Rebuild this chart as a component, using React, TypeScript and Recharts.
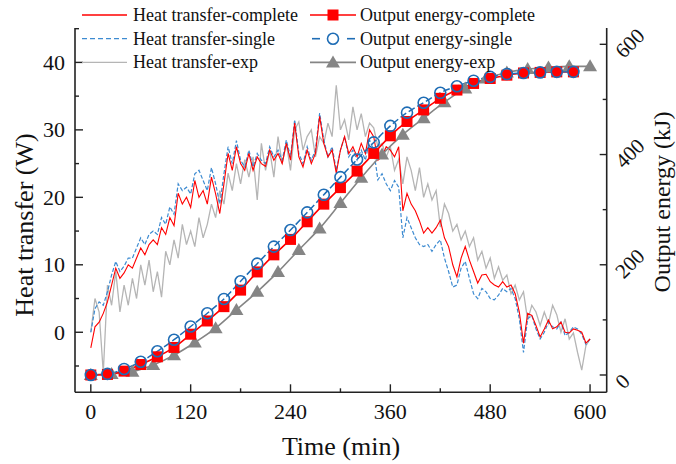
import React from "react";
import { ComposedChart, Line, XAxis, YAxis, Legend } from "recharts";

const FONT = '"Liberation Serif", "Times New Roman", serif';
const AXIS = "#222";
const RED = "#ff0000";
const BLUE_HEAT = "#3d8bd1";
const BLUE_E = "#1f6db5";
const GREY_HEAT = "#b5b5b5";
const GREY_E = "#858585";

// heat transfer (W), sampled every 5 min, 0..600
const HEAT_TIME = Array.from({ length: 121 }, (_, i) => i * 5);
const HEAT_COMPLETE = [
  -2.3, 0.8, 1.5, 2.8, 4.5, 7, 9.5, 8, 8.8, 10, 9.5, 11,
  12.5, 11.5, 13, 13.7, 13, 15.5, 14.5, 17, 15.8, 20.6, 19, 20,
  18.5, 22.5, 20, 21, 19, 23, 20.5, 17.6, 22, 26.5, 24, 27.5,
  25, 24, 26.5, 24, 26, 25, 24.6, 27, 25.5, 26.5, 25, 28,
  25.5, 31, 26, 24.5, 27, 25, 26.5, 32, 28, 26, 27, 23.6,
  27, 29, 26.5, 27.5, 26, 28, 26.5, 30, 29, 25.5, 26, 27.5,
  27, 26, 27.5, 18, 20.6, 19, 18, 16.5, 14.7, 15.5, 14.7, 15.5,
  16.6, 14, 12.7, 10, 8.2, 11, 12.7, 10.7, 9, 7.3, 8.5, 8.6,
  7.5, 7, 6.7, 7.5, 6.7, 7, 5.7, 3, -1.6, 2.8, 2.5, 1,
  -0.7, 0.5, 1.8, 0.5, 0.8, 1.5, 0, -0.1, 0.5, 0.3, 0, -1.6,
  -1,
];
const HEAT_SINGLE = [
  0, 3.5, 4.5, 4, 6, 8.5, 10.5, 9, 9.8, 11, 11, 12.5,
  14, 13, 14.5, 15, 14.5, 17, 16, 18.6, 17.5, 22, 21, 21.5,
  20.5, 23.5, 24, 22.5, 21, 24.4, 22, 19, 23.5, 27.5, 25, 28.4,
  25.5, 24.5, 27, 24.5, 26.5, 25.5, 25, 27.5, 26, 27, 25.5, 28.5,
  26, 31.5, 26.5, 25, 27.5, 25.5, 27, 32.5, 28.5, 26, 27.5, 24,
  27, 29, 26, 27, 25.5, 27, 25.5, 28.5, 27, 22.6, 23.5, 22,
  21, 22.5, 21.5, 14, 17, 15.5, 14, 13, 12.7, 13, 12, 13,
  13.7, 11, 9, 6.7, 7, 9.5, 10.5, 8, 5.7, 5, 6.5, 6,
  5, 4.8, 5.5, 6.5, 6, 6.5, 5, 2, -3, 2, 2.5, 0.5,
  -1, 0, 1.5, 0.8, 0.5, 1.5, -0.5, 0, 0.8, 0.5, -0.3, -1.8,
  -1,
];
const HEAT_EXP = [
  0, 5, 3, -6, 7, 4, 9, 3, 7, 4, 8, 5,
  10, 7, 10.7, 6, 9, 5.2, 12, 10, 13.7, 11, 16, 13,
  15, 12.7, 17, 14, 16, 19, 17, 21, 19, 23.6, 21, 25,
  22, 25.6, 23, 26, 19.6, 28, 24, 27, 23, 29, 25, 28,
  24, 30, 31.2, 27, 29, 30, 26, 29, 28, 31, 29, 36.6,
  30, 31.5, 28.5, 33.4, 30, 32.4, 29, 31, 30.3, 27.5, 28, 26,
  27.5, 24, 25.6, 22, 26, 24, 21, 24.4, 20, 22, 19.6, 21,
  15.6, 19, 17.6, 15, 16, 13.7, 15, 12.7, 14, 10.7, 12, 9.5,
  11, 8, 9.7, 7.7, 8.5, 5.7, 7, 4.8, 6, 1.8, 4, 3,
  1, 3, 1.3, 4, 2.6, 0, 2, -1, -0.1, -3, -5.6, -2,
  -1,
];

// output energy (kJ)
const SIM_TIME = [
  0, 20, 40, 60, 80, 100, 120, 140, 160, 180, 200, 220, 240, 260, 280,
  300, 320, 340, 360, 380, 400, 420, 440, 460, 480, 500, 520, 540, 560, 580,
];
const ENERGY_COMPLETE = [
  0, 1, 7, 19, 33, 50, 74, 98, 124, 154, 187, 218, 246, 278, 310,
  340, 370, 402, 434, 460, 481, 502, 517, 529, 538, 544, 548, 549, 550, 550,
];
const ENERGY_SINGLE = [
  0, 2, 11, 24, 43, 64, 88, 112, 138, 170, 202, 233, 263, 295, 327,
  359, 391, 422, 452, 476, 494, 512, 524, 534, 541, 546, 548, 549, 550, 550,
];
const EXP_TIME = [
  0, 25, 50, 75, 100, 125, 150, 175, 200, 225, 250, 275, 300,
  325, 350, 375, 400, 425, 450, 475, 500, 525, 550, 575, 600,
];
const ENERGY_EXP = [
  0, 2, 6, 18, 36, 59, 85, 118, 151, 187, 227, 266, 312,
  358, 400, 436, 466, 495, 520, 538, 549, 555, 558, 560, 560,
];

const X_TICKS = [0, 60, 120, 180, 240, 300, 360, 420, 480, 540, 600];
const X_LABELS = [0, 120, 240, 360, 480, 600];
const LEFT_TICKS = [-5, 0, 5, 10, 15, 20, 25, 30, 35, 40, 45];
const LEFT_LABELS = [0, 10, 20, 30, 40];
const RIGHT_TICKS = [0, 100, 200, 300, 400, 500, 600];
const RIGHT_LABELS = [0, 200, 400, 600];

const rows = (time: number[], vals: number[]) =>
  time.map((t, i) => ({ t, v: vals[i] }));

const XTick = (p: any) => {
  const major = X_LABELS.includes(p.payload.value);
  return (
    <g>
      <line x1={p.x} x2={p.x} y1={p.y} y2={p.y - (major ? 8 : 4)} stroke={AXIS} strokeWidth={1.4} />
      {major && (
        <text x={p.x} y={p.y + 27} textAnchor="middle" fontFamily={FONT} fontSize={22} fill="#111">
          {p.payload.value}
        </text>
      )}
    </g>
  );
};

const LeftTick = (p: any) => {
  const major = LEFT_LABELS.includes(p.payload.value);
  return (
    <g>
      <line x1={p.x} x2={p.x + (major ? 8 : 4)} y1={p.y} y2={p.y} stroke={AXIS} strokeWidth={1.4} />
      {major && (
        <text x={p.x - 10} y={p.y + 7.5} textAnchor="end" fontFamily={FONT} fontSize={22} fill="#111">
          {p.payload.value}
        </text>
      )}
    </g>
  );
};

const RightTick = (p: any) => {
  const major = RIGHT_LABELS.includes(p.payload.value);
  const tx = p.x + 17;
  const ty = p.y + 15;
  return (
    <g>
      <line x1={p.x} x2={p.x - (major ? 7 : 4)} y1={p.y} y2={p.y} stroke={AXIS} strokeWidth={1.4} />
      {major && (
        <text x={tx} y={ty} transform={`rotate(-45 ${tx} ${ty})`} fontFamily={FONT} fontSize={21} fill="#111">
          {p.payload.value}
        </text>
      )}
    </g>
  );
};

const Square = (p: any) => (
  <rect key={`sq-${p.index}`} x={p.cx - 5.5} y={p.cy - 5.5} width={11} height={11} fill={RED} />
);
const Circle = (p: any) => (
  <circle key={`ci-${p.index}`} cx={p.cx} cy={p.cy} r={5.5} fill="none" stroke={BLUE_E} strokeWidth={1.6} />
);
const Triangle = (p: any) => (
  <path
    key={`tr-${p.index}`}
    d={`M${p.cx},${p.cy - 7} L${p.cx + 7},${p.cy + 5} L${p.cx - 7},${p.cy + 5} Z`}
    fill={GREY_E}
  />
);

const LegendBox = () => {
  const rowsY = [15, 38.7, 62.4];
  const txt = (x: number, y: number, s: string) => (
    <text x={x} y={y + 6} fontFamily={FONT} fontSize={18} fill="#111">{s}</text>
  );
  return (
    <svg width={676} height={78} style={{ display: "block" }}>
      <line x1={82} x2={127} y1={rowsY[0]} y2={rowsY[0]} stroke={RED} strokeWidth={1.3} />
      {txt(133, rowsY[0], "Heat transfer-complete")}
      <line x1={82} x2={127} y1={rowsY[1]} y2={rowsY[1]} stroke={BLUE_HEAT} strokeWidth={1.3} strokeDasharray="5 3" />
      {txt(133, rowsY[1], "Heat transfer-single")}
      <line x1={82} x2={127} y1={rowsY[2]} y2={rowsY[2]} stroke={GREY_HEAT} strokeWidth={1.3} />
      {txt(133, rowsY[2], "Heat transfer-exp")}

      <line x1={310} x2={356} y1={rowsY[0]} y2={rowsY[0]} stroke={RED} strokeWidth={1.6} />
      <rect x={327.5} y={rowsY[0] - 5.5} width={11} height={11} fill={RED} />
      {txt(360, rowsY[0], "Output energy-complete")}
      <line x1={312} x2={320} y1={rowsY[1]} y2={rowsY[1]} stroke={BLUE_E} strokeWidth={1.6} />
      <line x1={347} x2={355} y1={rowsY[1]} y2={rowsY[1]} stroke={BLUE_E} strokeWidth={1.6} />
      <circle cx={333} cy={rowsY[1]} r={5.5} fill="none" stroke={BLUE_E} strokeWidth={1.6} />
      {txt(360, rowsY[1], "Output energy-single")}
      <line x1={310} x2={356} y1={rowsY[2]} y2={rowsY[2]} stroke={GREY_E} strokeWidth={1.6} />
      <path d={`M333,${rowsY[2] - 7} L340,${rowsY[2] + 5} L326,${rowsY[2] + 5} Z`} fill={GREY_E} />
      {txt(360, rowsY[2], "Output energy-exp")}
    </svg>
  );
};

const App: React.FC = () => {
  return (
    <div style={{ position: "absolute", left: 0, top: 0, width: 676, height: 464, background: "#fff" }}>
      <ComposedChart width={676} height={464} margin={{ top: 28, right: 0, bottom: 0, left: 0 }}>
        <XAxis
          dataKey="t"
          type="number"
          domain={[-19, 620]}
          ticks={X_TICKS}
          interval={0}
          allowDataOverflow
          height={71.7}
          axisLine={{ stroke: AXIS, strokeWidth: 1.6 }}
          tickLine={false}
          tickSize={0}
          tickMargin={0}
          tick={XTick}
          label={() => (
            <text x={341} y={455} textAnchor="middle" fontFamily={FONT} fontSize={26} fill="#111">
              Time (min)
            </text>
          )}
        />
        <YAxis
          yAxisId="h"
          type="number"
          domain={[-8.9, 45.1]}
          ticks={LEFT_TICKS}
          interval={0}
          allowDataOverflow
          width={75}
          axisLine={{ stroke: AXIS, strokeWidth: 1.6 }}
          tickLine={false}
          tickSize={0}
          tickMargin={0}
          tick={LeftTick}
          label={() => (
            <text x={24} y={225} transform="rotate(-90 24 225)" textAnchor="middle" dominantBaseline="central" fontFamily={FONT} fontSize={26} fill="#111">
              Heat transfer (W)
            </text>
          )}
        />
        <YAxis
          yAxisId="e"
          orientation="right"
          type="number"
          domain={[-31.4, 629.6]}
          ticks={RIGHT_TICKS}
          interval={0}
          allowDataOverflow
          width={69.3}
          axisLine={{ stroke: AXIS, strokeWidth: 1.6 }}
          tickLine={false}
          tickSize={0}
          tickMargin={0}
          tick={RightTick}
          label={() => (
            <text x={662} y={202} transform="rotate(-90 662 202)" textAnchor="middle" dominantBaseline="central" fontFamily={FONT} fontSize={24} fill="#111">
              Output energy (kJ)
            </text>
          )}
        />
        <Legend
          layout="horizontal"
          verticalAlign="middle"
          align="center"
          wrapperStyle={{ top: 0, left: 0, width: 676, height: 78 }}
          content={LegendBox}
        />
        <Line
          yAxisId="h"
          data={rows(HEAT_TIME, HEAT_EXP)}
          dataKey="v"
          type="linear"
          stroke={GREY_HEAT}
          strokeWidth={1.3}
          dot={false}
          isAnimationActive={false}
        />
        <Line
          yAxisId="h"
          data={rows(HEAT_TIME, HEAT_SINGLE)}
          dataKey="v"
          type="linear"
          stroke={BLUE_HEAT}
          strokeWidth={1.2}
          strokeDasharray="4 2"
          dot={false}
          isAnimationActive={false}
        />
        <Line
          yAxisId="h"
          data={rows(HEAT_TIME, HEAT_COMPLETE)}
          dataKey="v"
          type="linear"
          stroke={RED}
          strokeWidth={1.1}
          dot={false}
          isAnimationActive={false}
        />
        <Line
          yAxisId="e"
          data={rows(EXP_TIME, ENERGY_EXP)}
          dataKey="v"
          type="monotone"
          stroke={GREY_E}
          strokeWidth={1.6}
          dot={Triangle}
          isAnimationActive={false}
        />
        <Line
          yAxisId="e"
          data={rows(SIM_TIME, ENERGY_COMPLETE)}
          dataKey="v"
          type="monotone"
          stroke={RED}
          strokeWidth={1.6}
          dot={Square}
          isAnimationActive={false}
        />
        <Line
          yAxisId="e"
          data={rows(SIM_TIME, ENERGY_SINGLE)}
          dataKey="v"
          type="monotone"
          stroke={BLUE_E}
          strokeWidth={1.5}
          strokeDasharray="7 3"
          dot={Circle}
          isAnimationActive={false}
        />
      </ComposedChart>
    </div>
  );
};

export default App;
